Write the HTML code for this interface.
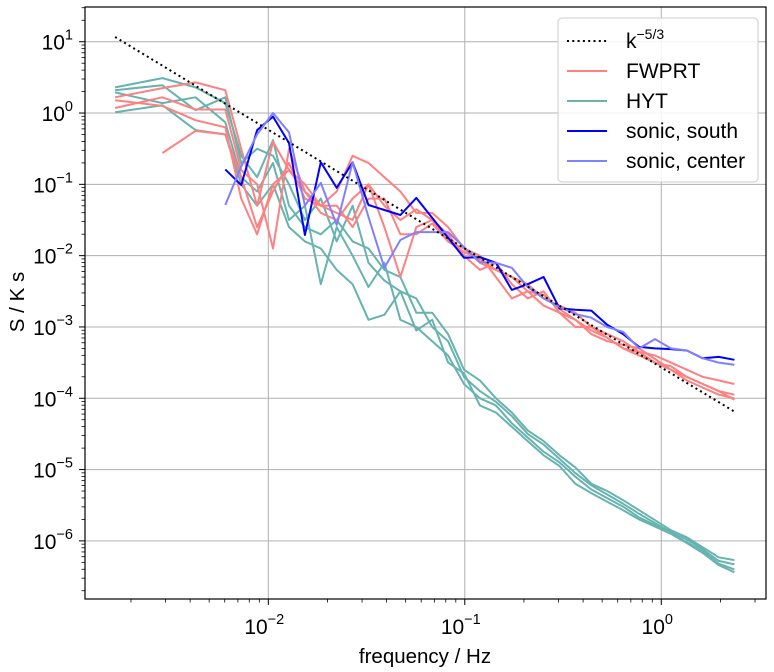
<!DOCTYPE html>
<html><head><meta charset="utf-8"><style>
body{margin:0;background:#fff;}
svg{display:block;font-family:"Liberation Sans","DejaVu Sans",sans-serif;}
</style></head><body>
<svg id="chart" width="774" height="672" viewBox="0 0 774 672" xmlns="http://www.w3.org/2000/svg">
<rect x="0" y="0" width="774" height="672" fill="#fff"/>
<g id="grid"></g>
<g id="series"></g>
<rect x="85" y="7" width="681" height="592" fill="none" stroke="#000" stroke-width="1.2"/>
<g id="ticks"></g>
<text x="425" y="663" font-size="20.5" text-anchor="middle">frequency / Hz</text>
<text transform="translate(24,302) rotate(-90)" font-size="20.5" text-anchor="middle">S / K s</text>
<g>
<rect x="558" y="18" width="200" height="164" rx="4" fill="#fff" fill-opacity="0.85" stroke="#ccc" stroke-width="1"/>
<g><line x1="567" y1="41" x2="607" y2="41" stroke="#000" stroke-width="2" stroke-dasharray="2,3.3"/><text x="626" y="48" font-size="21">k<tspan dy="-9" font-size="14">−5/3</tspan></text></g>
<g><line x1="567" y1="71" x2="607" y2="71" stroke="#ff8080" stroke-width="2"/><text x="626" y="78" font-size="21">FWPRT</text></g>
<g><line x1="567" y1="101" x2="607" y2="101" stroke="#66b3b0" stroke-width="2"/><text x="626" y="108" font-size="21">HYT</text></g>
<g><line x1="567" y1="131" x2="607" y2="131" stroke="#0000ff" stroke-width="2"/><text x="626" y="138" font-size="21">sonic, south</text></g>
<g><line x1="567" y1="161" x2="607" y2="161" stroke="#8080ff" stroke-width="2"/><text x="626" y="168" font-size="21">sonic, center</text></g>
</g>
</svg>
<script>
const freqs=[0.00166,0.00289,0.00426,0.00604,0.00728,0.00877,0.01057,0.01274,0.01535,0.01849,0.02228,0.02685,0.03236,0.03899,0.04699,0.05662,0.06823,0.08222,0.09908,0.1194,0.1439,0.1734,0.2089,0.2518,0.3034,0.3656,0.4406,0.5309,0.6397,0.7709,0.9290,1.119,1.349,1.626,1.959,2.355];
// log10 of spectral density values
const fwprt1=[0.22,0.35,0.43,0.32,-0.5,-1.3,-0.4,-0.8,-1.0,-1.3,-1.1,-0.6,-0.7,-0.9,-1.1,-1.4,-1.4,-1.6,-1.9,-2.1,-2.2,-2.3,-2.4,-2.6,-2.7,-2.8,-3.0,-3.1,-3.2,-3.35,-3.4,-3.5,-3.6,-3.7,-3.75,-3.8];
const fwprt2=[0.07,0.22,0.05,0.05,-0.8,-1.0,-1.9,-0.5,-1.1,-1.4,-1.5,-1.2,-1.0,-1.3,-1.5,-1.35,-1.5,-1.7,-2.0,-2.2,-2.1,-2.4,-2.6,-2.5,-2.8,-2.9,-3.1,-3.2,-3.25,-3.3,-3.45,-3.6,-3.7,-3.8,-3.9,-3.95];
const fwprt3=[0.18,0.1,-0.1,-0.2,-1.2,-1.7,-1.0,-0.8,-1.1,-1.3,-1.4,-1.5,-1.0,-1.6,-2.3,-1.6,-1.5,-1.8,-1.9,-2.0,-2.3,-2.6,-2.5,-2.7,-2.8,-3.0,-3.0,-3.15,-3.3,-3.4,-3.5,-3.6,-3.75,-3.85,-3.95,-4.0];
const fwprt4=[null,-0.56,-0.25,-0.3,-0.9,-1.6,-1.1,-0.7,-1.2,-1.3,-1.3,-1.6,-1.2,-1.2,-1.7,-1.7,-1.55,-1.8,-1.95,-2.05,-2.2,-2.3,-2.5,-2.55,-2.75,-2.9,-3.05,-3.15,-3.3,-3.35,-3.5,-3.55,-3.7,-3.8,-3.9,-4.02];
const hyt1=[0.36,0.49,0.36,0.14,-0.6,-0.9,-0.38,-1.3,-1.6,-1.7,-1.5,-1.8,-1.9,-2.2,-2.3,-2.8,-2.8,-3.1,-3.6,-3.75,-4.0,-4.2,-4.45,-4.6,-4.8,-4.97,-5.2,-5.3,-5.43,-5.57,-5.71,-5.85,-5.95,-6.09,-6.23,-6.27];
const hyt2=[0.32,0.39,0.04,0.22,-0.7,-0.5,-0.6,-1.0,-1.5,-1.2,-1.8,-1.3,-2.1,-2.35,-2.5,-2.6,-3.0,-3.2,-3.7,-3.9,-4.05,-4.25,-4.5,-4.65,-4.85,-5.05,-5.22,-5.35,-5.48,-5.62,-5.75,-5.88,-5.98,-6.12,-6.28,-6.33];
const hyt3=[0.29,0.14,0.22,-0.13,-0.9,-1.1,-0.7,-1.5,-1.3,-2.4,-1.6,-2.0,-2.44,-2.1,-2.9,-3.0,-3.2,-3.4,-3.8,-4.0,-4.1,-4.35,-4.55,-4.75,-4.9,-5.1,-5.28,-5.4,-5.52,-5.67,-5.78,-5.9,-6.02,-6.15,-6.32,-6.4];
const hyt4=[0.01,0.11,-0.24,-0.3,-1.0,-1.3,-1.0,-1.6,-1.8,-1.9,-2.2,-2.4,-2.9,-2.83,-2.5,-3.05,-2.9,-3.5,-3.65,-4.1,-4.2,-4.4,-4.6,-4.8,-4.95,-5.2,-5.33,-5.45,-5.57,-5.7,-5.8,-5.9,-6.03,-6.17,-6.34,-6.44];
const sonicSouth=[null,null,null,-0.79,-1.01,-0.24,-0.05,-0.42,-1.71,-0.69,-1.05,-0.69,-1.29,-1.36,-1.43,-1.19,-1.47,-1.75,-2.03,-2.02,-2.1,-2.48,-2.4,-2.3,-2.74,-2.76,-2.77,-2.97,-3.1,-3.28,-3.3,-3.31,-3.33,-3.44,-3.42,-3.46];
const sonicCenter=[null,null,null,-1.29,-0.75,-0.3,0.0,-0.27,-1.3,-0.98,-1.57,-0.69,-1.46,-2.17,-1.78,-1.67,-1.67,-1.67,-1.88,-2.09,-2.1,-2.17,-2.44,-2.6,-2.72,-2.82,-2.87,-3.0,-3.07,-3.3,-3.17,-3.3,-3.33,-3.44,-3.5,-3.53];
const refAmp=1.066, refSlope=-5/3;
const xTickExps=[-2,-1,0];
const yTickExps=[1,0,-1,-2,-3,-4,-5,-6];

const NS='http://www.w3.org/2000/svg';
const L=85,R=766,T=7,B=599;
const xMin=-2.933,xMax=0.533,yMax=1.487,yMin=-6.815;
function xs(f){return L+(Math.log10(f)-xMin)/(xMax-xMin)*(R-L);}
function ys(lv){return T+(yMax-lv)/(yMax-yMin)*(B-T);}
function mk(tag,attrs,parent){const e=document.createElementNS(NS,tag);for(const k in attrs)e.setAttribute(k,attrs[k]);parent.appendChild(e);return e;}
const grid=document.getElementById('grid'),ticks=document.getElementById('ticks'),ser=document.getElementById('series');
xTickExps.forEach(e=>{const x=xs(Math.pow(10,e));
 const g=mk('line',{x1:x,x2:x,y1:T,y2:B,stroke:'#b0b0b0','stroke-width':1},grid);
 
 
 mk('line',{x1:x,x2:x,y1:B,y2:B+6,stroke:'#000','stroke-width':1},ticks);
 const t=mk('text',{x:x-4,y:B+35,'font-size':21,'text-anchor':'middle'},ticks);
 
 
 t.innerHTML='10<tspan dy="-10" font-size="14.5">'+(e<0?'−'+(-e):e)+'</tspan>';
});
for(let d=-3;d<=0;d++)for(let m=2;m<=9;m++){const lf=d+Math.log10(m);if(lf<xMin||lf>xMax)continue;const x=xs(Math.pow(10,lf));mk('line',{x1:x,x2:x,y1:B,y2:B+3.5,stroke:'#000','stroke-width':0.8},ticks);}
yTickExps.forEach(e=>{const y=ys(e);
 const g=mk('line',{x1:L,x2:R,y1:y,y2:y,stroke:'#b0b0b0','stroke-width':1},grid);
 
 
 mk('line',{x1:L-6,x2:L,y1:y,y2:y,stroke:'#000','stroke-width':1},ticks);
 const t=mk('text',{x:L-12,y:y+8,'font-size':21,'text-anchor':'end'},ticks);
 
 
 t.innerHTML='10<tspan dy="-10" font-size="14.5">'+(e<0?'−'+(-e):e)+'</tspan>';
});
for(let d=-7;d<=1;d++)for(let m=2;m<=9;m++){const lv=d+Math.log10(m);if(lv<yMin||lv>yMax)continue;const y=ys(lv);mk('line',{x1:L-3.5,x2:L,y1:y,y2:y,stroke:'#000','stroke-width':0.8},ticks);}
function drawLine(arr,color,name,dash){let d='';let pen=false;arr.forEach((v,i)=>{if(v===null){pen=false;return;}d+=(pen?'L':'M')+xs(freqs[i]).toFixed(1)+' '+ys(v).toFixed(1);pen=true;});
 const p=mk('path',{d:d,fill:'none',stroke:color,'stroke-width':2,'stroke-linejoin':'round'},ser);
 if(dash)p.setAttribute('stroke-dasharray',dash);
 
 }
const ref=freqs.map(f=>refAmp+refSlope*(Math.log10(f)-Math.log10(freqs[0])));
[hyt1,hyt2,hyt3,hyt4].forEach((a,i)=>drawLine(a,'#66b3b0','hyt-line-'+(i+1)));
[fwprt1,fwprt2,fwprt3,fwprt4].forEach((a,i)=>drawLine(a,'#ff8080','fwprt-line-'+(i+1)));
drawLine(sonicSouth,'#0000ff','sonic-south-line');
drawLine(sonicCenter,'#8080ff','sonic-center-line');
drawLine(ref,'#000','k-53-reference-line','2,3.3');
</script>
</body></html>
